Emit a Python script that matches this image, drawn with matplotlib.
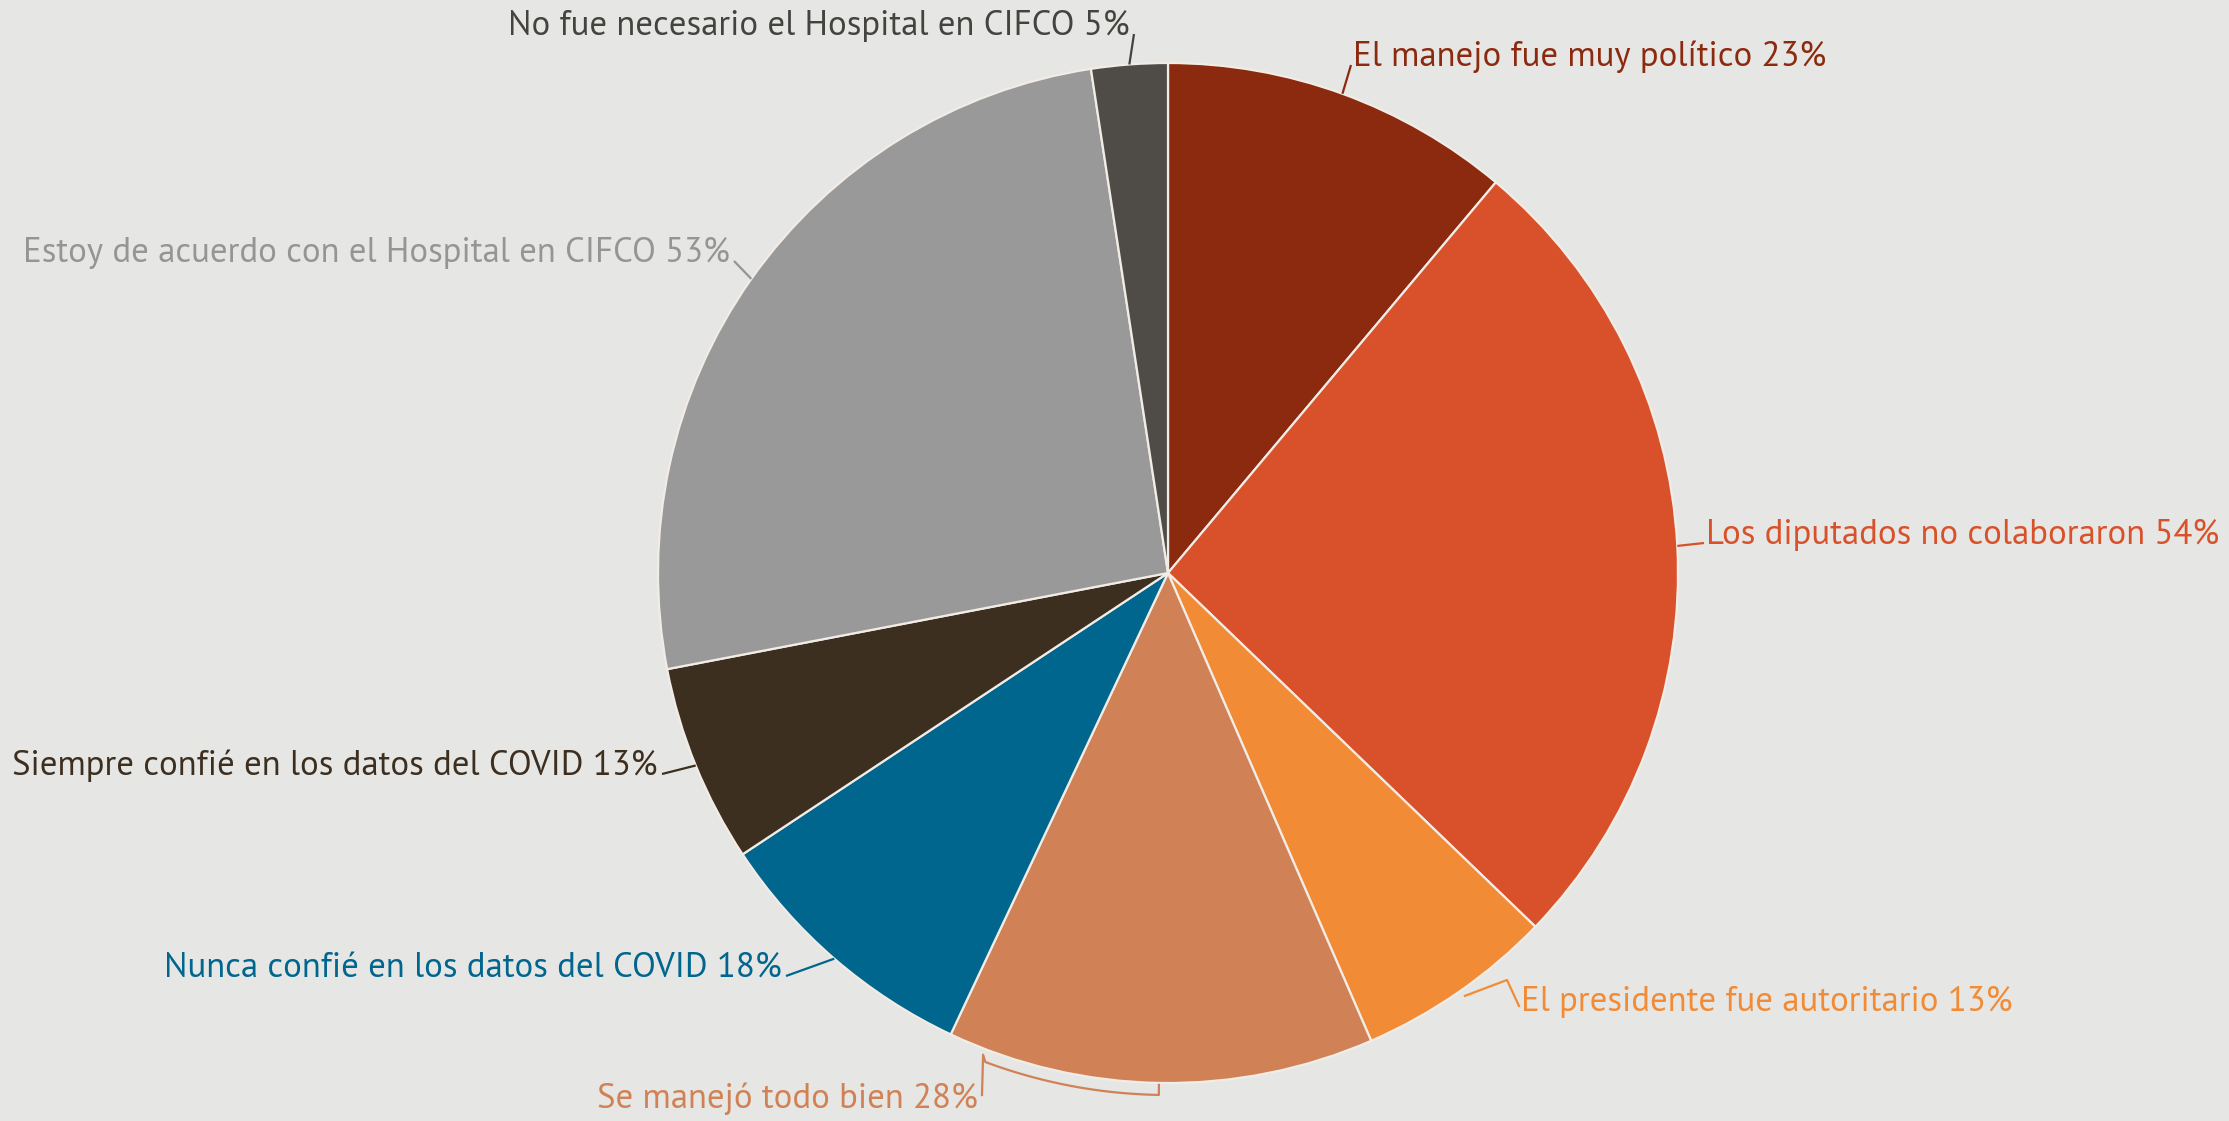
import numpy as np
import matplotlib

matplotlib.use("Agg")
import matplotlib.pyplot as plt

# answers (multi-response survey, % of respondents), clockwise from 12 o'clock
labels = [
    "El manejo fue muy político",
    "Los diputados no colaboraron",
    "El presidente fue autoritario",
    "Se manejó todo bien",
    "Nunca confié en los datos del COVID",
    "Siempre confié en los datos del COVID",
    "Estoy de acuerdo con el Hospital en CIFCO",
    "No fue necesario el Hospital en CIFCO",
]
values = [23, 54, 13, 28, 18, 13, 53, 5]
colors = ["#8b2a0e", "#d9512a", "#f28b35", "#d08256", "#00668e", "#3d2f20", "#999999", "#4f4c47"]
text_colors = ["#8b2a0e", "#d9512a", "#f28b35", "#d08256", "#00668e", "#3d2f20", "#959595", "#45433f"]

W, H = 2229, 1121
fig = plt.figure(figsize=(W / 100, H / 100), dpi=100)
fig.patch.set_facecolor("#e6e6e4")
ax = fig.add_axes([0, 0, 1, 1])

cx, cy, r = 1168, H - 573, 510
wedges, _ = ax.pie(
    values,
    colors=colors,
    startangle=90,
    counterclock=False,
    center=(cx, cy),
    radius=r,
    wedgeprops=dict(edgecolor="#f2ece6", linewidth=1.6),
    frame=True,
)
ax.set_xlim(0, W)
ax.set_ylim(0, H)
ax.set_aspect("equal")
ax.axis("off")

# label anchors in pixel coords (x, y from top, alignment)
anchors = [
    (1353, 57, "left"),
    (1706, 535, "left"),
    (1521, 1002, "left"),
    (978, 1099, "right"),
    (782, 968, "right"),
    (658, 766, "right"),
    (730, 253, "right"),
    (1130, 26, "right"),
]

font = ["PT Sans", "PT Sans Narrow", "DejaVu Sans"]
for i, (w, lab, v, col, (tx, ty, ha)) in enumerate(zip(wedges, labels, values, text_colors, anchors)):
    mid = np.deg2rad((w.theta1 + w.theta2) / 2)
    ex, ey = cx + r * np.cos(mid), cy + r * np.sin(mid)
    ty_up = H - ty
    lx = tx - 2 if ha == "left" else tx + 4
    if lab.startswith("Se manejó"):
        # bracket following the rim under the slice
        a = np.deg2rad(np.linspace(-111, -91, 40))
        rr = r + 12
        xs = np.r_[lx, cx + rr * np.cos(a), cx + rr * np.cos(a[-1])]
        ys = np.r_[ty_up + 4, cy + rr * np.sin(a), cy + (rr - 10) * np.sin(a[-1])]
        xs[1] = cx + (rr - 6) * np.cos(a[0])
        ys[1] = cy + (rr - 6) * np.sin(a[0])
        ax.plot(xs, ys, color=col, linewidth=1.6)
    elif lab.startswith("El presidente"):
        ax.plot([ex + 6, lx - 12, lx], [ey - 4, ty_up + 22, ty_up - 4], color=col, linewidth=1.6)
    else:
        ax.plot([ex, lx], [ey, ty_up - 8], color=col, linewidth=1.6, solid_capstyle="butt")
    ax.text(tx, ty_up, f"{lab} {v}%", color=col, fontsize=25, family=font,
            ha=ha, va="center")

fig.savefig("out.png", dpi=100, facecolor=fig.get_facecolor())
